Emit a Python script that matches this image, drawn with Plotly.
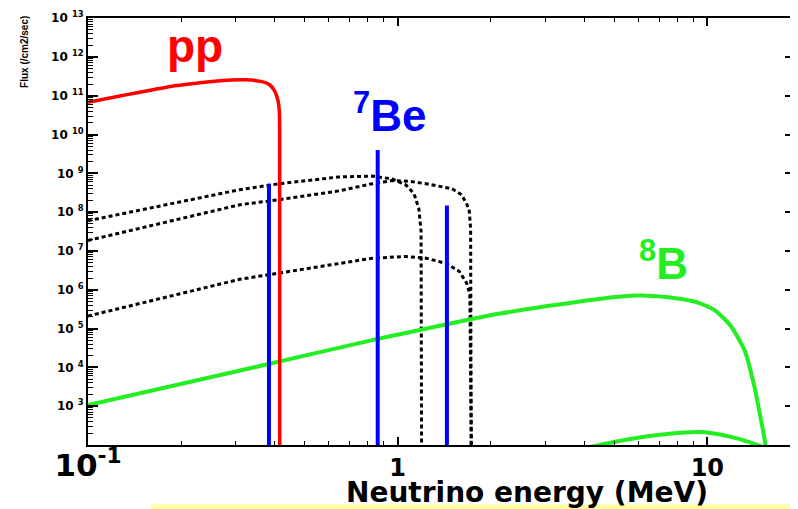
import plotly.graph_objects as go

# ---------------- data ----------------
pp_energy = [0.1, 0.128, 0.185, 0.268, 0.321, 0.361, 0.385, 0.400, 0.410, 0.415, 0.4158, 0.416]
pp_flux = [6.8e10, 1.0e11, 1.74e11, 2.45e11, 2.57e11, 2.35e11, 1.95e11, 1.35e11, 7.9e10, 3.7e10, 1.0e9, 1.0e1]

n13_energy = [0.1, 0.18, 0.309, 0.415, 0.648, 0.828, 0.96, 1.064, 1.13, 1.17, 1.19, 1.195]
n13_flux = [6.0e7, 1.6e8, 3.8e8, 5.4e8, 8.1e8, 8.5e8, 7.2e8, 5.0e8, 2.95e8, 1.23e8, 3.2e7, 1.0e1]

o15_energy = [0.1, 0.18, 0.309, 0.415, 0.648, 0.828, 0.96, 1.08, 1.235, 1.50, 1.61, 1.70, 1.72, 1.728]
o15_flux = [1.86e7, 5.6e7, 1.55e8, 2.1e8, 3.55e8, 5.4e8, 6.5e8, 6.3e8, 5.4e8, 4.0e8, 2.8e8, 1.23e8, 3.8e7, 1.0e1]

f17_energy = [0.1, 0.18, 0.309, 0.415, 0.648, 0.828, 1.064, 1.235, 1.43, 1.58, 1.67, 1.71, 1.735]
f17_flux = [2.1e5, 6.6e5, 1.86e6, 2.7e6, 4.8e6, 6.5e6, 7.2e6, 6.5e6, 4.8e6, 3.0e6, 1.48e6, 7.9e5, 1.0e1]

b8_energy = [0.1, 0.3, 0.87, 1.07, 2.12, 4.46, 5.17, 6.0, 6.7, 8.25, 9.36, 10.6, 11.9, 13.2, 14.2, 14.9, 15.4, 15.5]
b8_flux = [1.07e3, 7.8e3, 5.5e4, 7.8e4, 2.4e5, 5.75e5, 6.6e5, 7.1e5, 6.9e5, 5.75e5, 4.6e5, 2.9e5, 1.17e5, 2.7e4, 3.1e3, 4.4e2, 1.0e2, 1.0e1]

hep_energy = [4.2, 5.7, 7.3, 9.58, 11.9, 13.6, 15.0]
hep_flux = [9.0e1, 1.45e2, 1.9e2, 2.15e2, 1.62e2, 1.2e2, 9.0e1]

line_energy = [0.384, 0.862, 1.442]
line_flux = [5.4e8, 4.0e9, 1.48e8]
line_floor = 1.0e1

x_tickvals = [0.1, 1, 10]
x_ticktext = ["<span style='font-size:31px'>10<sup>-1</sup></span>", "1", "10"]
y_tickvals = [1e3, 1e4, 1e5, 1e6, 1e7, 1e8, 1e9, 1e10, 1e11, 1e12, 1e13]
y_ticktext = ["10 <sup>%d</sup>" % k for k in range(3, 14)]

RED = "#FF0000"
BLUE = "#0000FF"
GREEN = "#22EE22"

fig = go.Figure()

dot = dict(color="black", width=3, dash="4px,3px")
for ex, fx in [(n13_energy, n13_flux), (o15_energy, o15_flux), (f17_energy, f17_flux)]:
    fig.add_trace(go.Scatter(x=ex, y=fx, mode="lines", line=dot, hoverinfo="skip"))

fig.add_trace(go.Scatter(x=b8_energy, y=b8_flux, mode="lines",
                         line=dict(color=GREEN, width=4, shape="spline", smoothing=0.6)))
fig.add_trace(go.Scatter(x=hep_energy, y=hep_flux, mode="lines",
                         line=dict(color=GREEN, width=4, shape="spline")))

for e, f in zip(line_energy, line_flux):
    fig.add_trace(go.Scatter(x=[e, e], y=[line_floor, f], mode="lines",
                             line=dict(color=BLUE, width=4)))

fig.add_trace(go.Scatter(x=pp_energy, y=pp_flux, mode="lines",
                         line=dict(color=RED, width=3.5, shape="spline", smoothing=0.5)))

axis_common = dict(
    showline=True, linecolor="black", linewidth=2, mirror="ticks",
    ticks="inside", tickcolor="black", showgrid=False, zeroline=False,
    ticklabeloverflow="allow",
)

fig.update_xaxes(
    type="log", range=[-1, 1.283], tickvals=x_tickvals, ticktext=x_ticktext,
    ticklen=8, tickwidth=1.5,
    tickfont=dict(family="DejaVu Sans", size=24, color="black", weight="bold"),
    minor=dict(ticks="inside", ticklen=4, tickwidth=1, tickcolor="black", dtick="D1", showgrid=False),
    **axis_common,
)
fig.update_yaxes(
    type="log", range=[1.999, 13.004], tickvals=y_tickvals, ticktext=y_ticktext,
    ticklen=10, tickwidth=1.5,
    tickfont=dict(family="DejaVu Sans", size=12, color="black", weight="bold"),
    minor=dict(ticks="inside", ticklen=5, tickwidth=1, tickcolor="black", dtick="D1", showgrid=False),
    **axis_common,
)

# The page body adds an 8px offset; the figure is sized so the plot lands where the reference has it.
OFF = 8
W, H = 798 - OFF, 509 - OFF
L, R, T, B = 88 - OFF, 1, 15 - OFF, 64
pw, ph = W - L - R, H - T - B


def px(x):
    return (x - OFF - L) / pw


def py(y):
    return (H - B - (y - OFF)) / ph


annotations = [
    dict(text="pp", x=px(195), y=py(43), font=dict(family="Liberation Sans", size=46, color=RED, weight="bold")),
    dict(text="<sup>7</sup>Be", x=px(390), y=py(110), font=dict(family="Liberation Sans", size=44, color=BLUE, weight="bold")),
    dict(text="<sup>8</sup>B", x=px(665), y=py(259), font=dict(family="Liberation Sans", size=44, color=GREEN, weight="bold")),
    dict(text="Neutrino energy (MeV)", x=px(528), y=py(493),
         font=dict(family="DejaVu Sans", size=28, color="black", weight="bold")),
    dict(text="Flux (/cm2/sec)", x=px(25), y=py(49), textangle=-90,
         font=dict(family="Liberation Sans", size=10, color="black", weight="bold")),
]
for a in annotations:
    a.update(xref="paper", yref="paper", showarrow=False, xanchor="center", yanchor="middle")
fig.update_layout(annotations=annotations)

fig.add_shape(type="rect", xref="paper", yref="paper",
              x0=px(151), x1=px(800), y0=py(510), y1=py(505),
              fillcolor="#FFFF99", line=dict(width=0), layer="below")

fig.update_layout(
    width=W, height=H, margin=dict(l=L, r=R, t=T, b=B),
    plot_bgcolor="white", paper_bgcolor="white", showlegend=False,
)

fig.write_html("out.html")
